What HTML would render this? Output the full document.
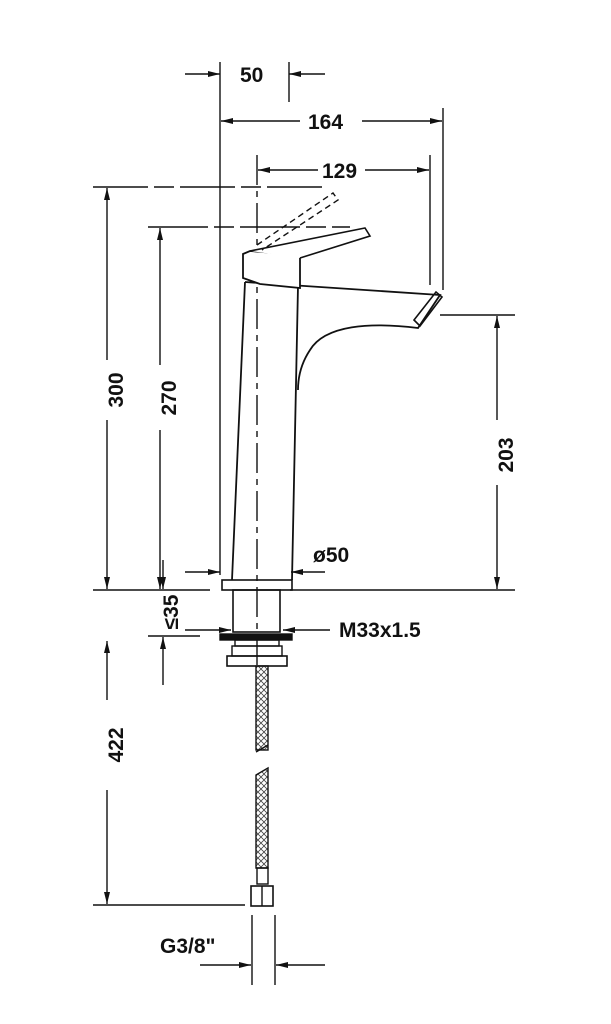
<!DOCTYPE html>
<html><head><style>body{margin:0;background:#fff}svg{display:block}text{font-family:"Liberation Sans",sans-serif;font-weight:bold;fill:#111;font-size:21px}</style></head><body>
<svg width="611" height="1024" viewBox="0 0 611 1024" xmlns="http://www.w3.org/2000/svg">
<defs>
<marker id="a" viewBox="0 0 12 6" refX="12" refY="3" markerWidth="12" markerHeight="6" orient="auto" markerUnits="userSpaceOnUse"><path d="M0,0L12,3L0,6z" fill="#111"/></marker>
<pattern id="h" width="6" height="6" patternUnits="userSpaceOnUse"><path d="M0,0L6,6M6,0L0,6" stroke="#444" stroke-width="0.8"/></pattern>
</defs>
<g stroke="#111" stroke-width="1.4" fill="none">
<!-- extension lines -->
<line x1="220" y1="62" x2="220" y2="575"/>
<line x1="289" y1="62" x2="289" y2="108" stroke-dasharray="40 6 6 6"/>
<line x1="443" y1="108" x2="443" y2="290"/>
<line x1="257" y1="155" x2="257" y2="670" stroke-dasharray="30 6 6 6"/>
<line x1="430" y1="155" x2="430" y2="285"/>
<line x1="93" y1="187" x2="325" y2="187" stroke-dasharray="55 6 20 6"/>
<line x1="148" y1="227" x2="350" y2="227" stroke-dasharray="60 6 20 6"/>
<line x1="93" y1="590" x2="210" y2="590"/>
<line x1="290" y1="590" x2="515" y2="590"/>
<line x1="440" y1="315" x2="515" y2="315"/>
<line x1="148" y1="636" x2="200" y2="636"/>
<line x1="93" y1="905" x2="245" y2="905"/>
<line x1="252" y1="915" x2="252" y2="985"/>
<line x1="275" y1="915" x2="275" y2="985"/>
<!-- dims -->
<line x1="185" y1="74" x2="220" y2="74" marker-end="url(#a)"/>
<line x1="325" y1="74" x2="289" y2="74" marker-end="url(#a)"/>
<line x1="300" y1="121" x2="221" y2="121" marker-end="url(#a)"/>
<line x1="362" y1="121" x2="442" y2="121" marker-end="url(#a)"/>
<line x1="318" y1="170" x2="258" y2="170" marker-end="url(#a)"/>
<line x1="365" y1="170" x2="429" y2="170" marker-end="url(#a)"/>
<line x1="107" y1="360" x2="107" y2="188" marker-end="url(#a)"/>
<line x1="107" y1="420" x2="107" y2="589" marker-end="url(#a)"/>
<line x1="160" y1="365" x2="160" y2="228" marker-end="url(#a)"/>
<line x1="160" y1="430" x2="160" y2="589" marker-end="url(#a)"/>
<line x1="497" y1="420" x2="497" y2="316" marker-end="url(#a)"/>
<line x1="497" y1="485" x2="497" y2="589" marker-end="url(#a)"/>
<line x1="163" y1="560" x2="163" y2="589" marker-end="url(#a)"/>
<line x1="163" y1="685" x2="163" y2="637" marker-end="url(#a)"/>
<line x1="107" y1="700" x2="107" y2="641" marker-end="url(#a)"/>
<line x1="107" y1="790" x2="107" y2="904" marker-end="url(#a)"/>
<line x1="185" y1="572" x2="220" y2="572" marker-end="url(#a)"/>
<line x1="325" y1="572" x2="291" y2="572" marker-end="url(#a)"/>
<line x1="185" y1="630" x2="231" y2="630" marker-end="url(#a)"/>
<line x1="330" y1="630" x2="283" y2="630" marker-end="url(#a)"/>
<line x1="200" y1="965" x2="251" y2="965" marker-end="url(#a)"/>
<line x1="325" y1="965" x2="276" y2="965" marker-end="url(#a)"/>
<!-- tap -->
<path d="M245,282 L232,580 M298,286 L292,580" stroke-width="1.8"/>
<path d="M245,282 L440,295 L418,328 C370,322 325,325 310,350 C300,365 298,380 298,390" stroke-width="1.8"/>
<path d="M414,320 L436,292 L442,297 L420,326 Z" stroke-width="1.6"/>
<path d="M243,254 L250,251 L300,255 L300,288 L260,284 L243,278 Z" stroke-width="1.8" fill="#fff"/>
<path d="M250,251 L365,228 L370,236 L300,258" stroke-width="1.6" fill="#fff"/>
<path d="M257,245 L333,193 L338,200 L262,250" stroke-dasharray="6 4"/>
<rect x="222" y="580" width="70" height="10" stroke-width="1.6"/>
<!-- shank -->
<rect x="233" y="590" width="47" height="42" stroke-width="1.6"/>
<rect x="220" y="634" width="72" height="6" fill="#111"/>
<rect x="235" y="640" width="44" height="6"/>
<rect x="227" y="656" width="60" height="10" stroke-width="1.6"/>
<rect x="232" y="646" width="50" height="10"/>
<rect x="256" y="666" width="12" height="84" fill="url(#h)"/>
<path d="M256,752 L268,745"/>
<path d="M256,775 L268,768 L268,868 L256,868 Z" fill="url(#h)"/>
<rect x="257" y="868" width="11" height="16"/>
<rect x="251" y="886" width="22" height="20" stroke-width="1.6"/>
<line x1="262" y1="886" x2="262" y2="906"/>
</g>
<text x="240" y="82">50</text>
<text x="308" y="129">164</text>
<text x="322" y="178">129</text>
<text x="339" y="637">M33x1.5</text>
<text x="313" y="562">ø50</text>
<text x="160" y="953">G3/8"</text>
<text transform="translate(123,390) rotate(-90)" text-anchor="middle">300</text>
<text transform="translate(176,398) rotate(-90)" text-anchor="middle">270</text>
<text transform="translate(513,455) rotate(-90)" text-anchor="middle">203</text>
<text transform="translate(123,745) rotate(-90)" text-anchor="middle">422</text>
<text transform="translate(178,612) rotate(-90)" text-anchor="middle">≤35</text>
</svg>
</body></html>
